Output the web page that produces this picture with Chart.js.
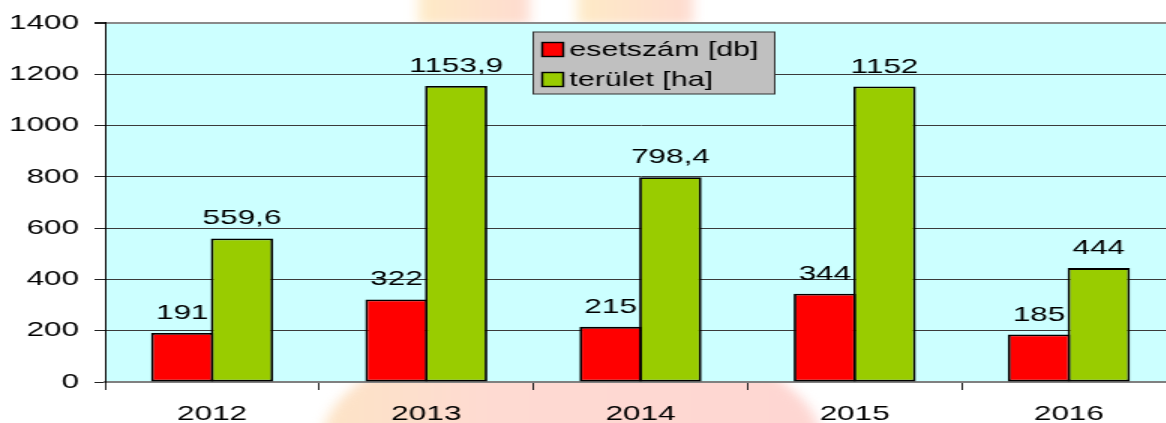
<!DOCTYPE html>
<html>
<head>
<meta charset="utf-8">
<script src="https://cdn.jsdelivr.net/npm/chart.js@4/dist/chart.umd.min.js"></script>
<style>
  html, body { margin: 0; padding: 0; background: #fff; overflow: hidden; }
  /* the original picture is stretched sideways, so the chart is drawn narrow and widened */
  #wrap { width: 784px; height: 423px; transform: scaleX(1.5); transform-origin: 0 0; }
</style>
</head>
<body>
<div id="wrap"><canvas id="myChart"></canvas></div>
<script>
var years = ['2012', '2013', '2014', '2015', '2016'];
var esetszam = [191, 322, 215, 344, 185];
var terulet = [559.6, 1153.9, 798.4, 1152, 444];
var yTicks = [0, 200, 400, 600, 800, 1000, 1200, 1400];
var seriesNames = ['esetszám [db]', 'terület [ha]'];
var barColors = ['#ff0000', '#99cc00'];

var FONT = '"Liberation Sans", Arial, sans-serif';

// faint logo watermark behind the chart + cyan plot area
var backdrop = {
  id: 'backdrop',
  beforeDraw(chart) {
    var ctx = chart.ctx;
    var a = chart.chartArea;
    ctx.save();
    ctx.filter = 'blur(4px)';
    var g1 = ctx.createLinearGradient(277, 0, 353, 0);
    g1.addColorStop(0, '#feebc6');
    g1.addColorStop(1, '#fedbd0');
    ctx.fillStyle = g1;
    ctx.fillRect(279, -10, 74, 34);
    var g2 = ctx.createLinearGradient(383, 0, 462, 0);
    g2.addColorStop(0, '#feebc6');
    g2.addColorStop(1, '#fedbd0');
    ctx.fillStyle = g2;
    ctx.fillRect(385, -10, 77, 34);
    ctx.restore();

    ctx.save();
    ctx.beginPath();
    ctx.rect(0, a.bottom + 1, chart.width, chart.height);
    ctx.clip();
    ctx.filter = 'blur(4px)';
    var g3 = ctx.createLinearGradient(215, 0, 546, 0);
    g3.addColorStop(0, '#fde4c6');
    g3.addColorStop(0.35, '#fedad2');
    g3.addColorStop(1, '#fed6d2');
    ctx.fillStyle = g3;
    ctx.beginPath();
    ctx.ellipse(381, 440, 166, 110, 0, 0, Math.PI * 2);
    ctx.fill();
    ctx.restore();

    ctx.save();
    ctx.fillStyle = '#ccffff';
    ctx.fillRect(a.left, a.top, a.right - a.left, a.bottom - a.top);
    ctx.restore();
  }
};

var valueLabels = {
  id: 'valueLabels',
  afterDatasetsDraw(chart) {
    var ctx = chart.ctx;
    ctx.save();
    ctx.font = '21px ' + FONT;
    ctx.fillStyle = '#000';
    ctx.textAlign = 'center';
    ctx.textBaseline = 'alphabetic';
    chart.data.datasets.forEach(function (ds, i) {
      chart.getDatasetMeta(i).data.forEach(function (bar, j) {
        ctx.fillText(String(ds.data[j]).replace('.', ','), bar.x, bar.y - 14);
      });
    });
    ctx.restore();
  }
};

var boxLegend = {
  id: 'boxLegend',
  afterDraw(chart) {
    var ctx = chart.ctx;
    var x = 355.5, y = 32, w = 161, h = 62;
    ctx.save();
    ctx.fillStyle = '#c0c0c0';
    ctx.fillRect(x, y, w, h);
    ctx.strokeStyle = '#333';
    ctx.lineWidth = 1;
    ctx.strokeRect(x, y, w, h);
    ctx.font = '20.3px ' + FONT;
    ctx.textBaseline = 'middle';
    ctx.textAlign = 'left';
    chart.data.datasets.forEach(function (ds, i) {
      var cy = y + 17.5 + i * 30;
      ctx.fillStyle = ds.backgroundColor;
      ctx.fillRect(x + 6, cy - 7, 14, 14);
      ctx.lineWidth = 1.4;
      ctx.strokeStyle = '#000';
      ctx.strokeRect(x + 6, cy - 7, 14, 14);
      ctx.fillStyle = '#000';
      ctx.fillText(ds.label, x + 24, cy + 1);
    });
    ctx.restore();
  }
};

new Chart('myChart', {
  type: 'bar',
  data: {
    labels: years,
    datasets: [
      {
        label: seriesNames[0],
        data: esetszam,
        backgroundColor: barColors[0],
        borderColor: '#000',
        borderWidth: 1.8,
        borderSkipped: false,
        categoryPercentage: 0.5575,
        barPercentage: 1.045,
      },
      {
        label: seriesNames[1],
        data: terulet,
        backgroundColor: barColors[1],
        borderColor: '#000',
        borderWidth: 1.8,
        borderSkipped: false,
        categoryPercentage: 0.5575,
        barPercentage: 1.045,
      },
    ],
  },
  options: {
    responsive: true,
    maintainAspectRatio: false,
    animation: false,
    layout: { padding: { top: 22, right: 0, bottom: 0, left: 0 } },
    plugins: {
      legend: { display: false },
      tooltip: { enabled: false },
    },
    scales: {
      x: {
        afterFit(scale) { scale.height = 41; },
        grid: {
          offset: true,
          drawOnChartArea: false,
          drawTicks: true,
          tickLength: 8,
          color: '#222',
          lineWidth: 1,
        },
        border: { color: '#808080', width: 2 },
        ticks: {
          color: '#000',
          padding: 11.5,
          font: { size: 21, family: FONT },
        },
      },
      y: {
        min: 0,
        max: 1400,
        afterFit(scale) { scale.width = 70; },
        afterBuildTicks(scale) {
          scale.ticks = yTicks.map(function (v) { return { value: v }; });
        },
        grid: {
          color: function (c) {
            return (c.tick && (c.tick.value === 0 || c.tick.value === 1400)) ? '#8a8a8a' : '#3a3a3a';
          },
          lineWidth: function (c) {
            return (c.tick && c.tick.value === 1400) ? 2 : 1;
          },
          tickColor: '#222',
          tickLength: 7,
        },
        border: { color: '#000', width: 1 },
        ticks: {
          color: '#000',
          padding: 10.3,
          font: { size: 21, family: FONT },
          callback: function (v) { return String(v); },
        },
      },
    },
  },
  plugins: [backdrop, valueLabels, boxLegend],
});
</script>
</body>
</html>
